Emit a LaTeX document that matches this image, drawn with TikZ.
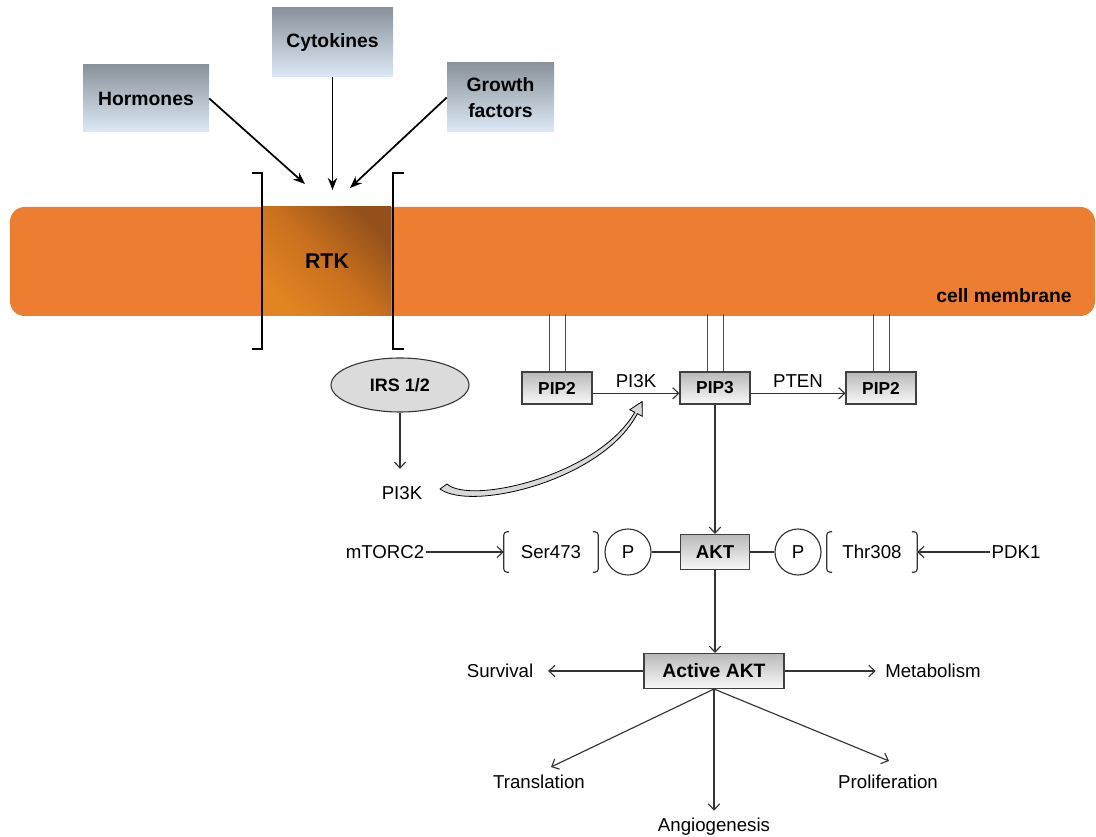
\documentclass[tikz,border=0pt]{standalone}
\usepackage{fontspec}
\setmainfont{Liberation Sans}
\usetikzlibrary{arrows.meta,shapes.geometric,calc}
\definecolor{membrane}{HTML}{ED7D31}
\definecolor{boxtop}{HTML}{8A939C}
\definecolor{boxbot}{HTML}{DDE9F6}
\definecolor{rtkdark}{HTML}{94501A}
\definecolor{rtkmid}{HTML}{C8701E}
\definecolor{rtklight}{HTML}{E08522}
\definecolor{linec}{HTML}{333333}
\begin{document}
\begin{tikzpicture}[x=0.75pt,y=-0.75pt,
  srcbox/.style={top color=boxtop,bottom color=boxbot,draw=none,align=center,
    font=\bfseries\fontsize{14.5}{20}\selectfont,inner sep=0pt},
  pipbox/.style={draw=black!75,line width=0.8pt,top color=gray!55,bottom color=gray!5,
    minimum width=52.5pt,minimum height=24pt,inner sep=0pt,
    font=\bfseries\fontsize{13}{15}\selectfont},
  lbl/.style={font=\fontsize{14}{16}\selectfont,inner sep=1pt},
  bigarrow/.style={line width=1.3pt,-{Stealth[length=9pt,width=7pt]}},
  thinarrow/.style={draw=linec,line width=0.85pt,-{Straight Barb[length=4.5pt,width=8.5pt]}},
  thinline/.style={draw=linec,line width=0.85pt},
  pcircle/.style={circle,draw=linec,line width=0.85pt,minimum size=34.5pt,inner sep=0pt,
    font=\fontsize{14}{16}\selectfont},
  bracketline/.style={draw=linec,line width=0.85pt,rounded corners=2.5pt},
  stalk/.style={draw=gray!60!black,line width=0.6pt}
]
\useasboundingbox (0,0) rectangle (1096,837);

% ligand boxes
\node[srcbox,minimum width=94.5pt,minimum height=50.25pt] (horm) at (146,98.5) {Hormones};
\node[srcbox,minimum width=90.75pt,minimum height=51.75pt] (cyto) at (332.5,42.5) {Cytokines};
\node[srcbox,minimum width=80.25pt,minimum height=51.75pt] (grow) at (500.5,97.5) {Growth\\factors};

% membrane
\fill[membrane,rounded corners=11pt] (10,207) rectangle (1095,316);
\node[minimum width=96pt,minimum height=81.75pt,inner sep=0pt,
  top color=rtkdark,bottom color=rtklight,middle color=rtkmid,shading angle=-45,
  font=\bfseries\fontsize{16}{18}\selectfont] (rtk) at (327,261.5) {RTK};
\node[font=\bfseries\fontsize{14.5}{16}\selectfont,anchor=east,inner sep=0pt] (cm) at (1072,296) {cell membrane};

% brackets around RTK
\draw[line width=1pt] (252,173) -- (262,173) -- (262,349) -- (252,349);
\draw[line width=1pt] (404,173) -- (393,173) -- (393,349) -- (404,349);

% ligand arrows
\coordinate (tH) at (305,184);
\coordinate (tC) at (332.5,190);
\coordinate (tG) at (350,188);
\draw[bigarrow] (horm.east) -- (tH);
\draw[bigarrow] (cyto.south) -- (tC);
\draw[bigarrow] (grow.west) -- (tG);

% IRS and PI3K
\node[ellipse,draw=black!80,line width=0.8pt,fill=gray!28,minimum width=103.5pt,
  minimum height=40.5pt,inner sep=0pt,font=\bfseries\fontsize{13.5}{15}\selectfont] (irs) at (400,385) {IRS 1/2};
\node[lbl] (pik) at (402,493) {PI3K};
\draw[thinarrow,shorten >=12pt] (irs.south) -- (irs.south |- pik.north);

% PIP boxes
\node[pipbox] (pipA) at (557,388) {PIP2};
\node[pipbox] (pipB) at (715,388) {PIP3};
\node[pipbox] (pipC) at (881,388) {PIP2};
\foreach \n in {pipA,pipB,pipC}{
  \draw[stalk] ([xshift=-6pt]\n.north) -- ++(0,-57);
  \draw[stalk] ([xshift=6pt]\n.north) -- ++(0,-57);
}
\draw[thinarrow] ([yshift=-4pt]pipA.east) -- ([yshift=-4pt]pipB.west)
  node[midway,above=3pt,lbl] (pikl) {PI3K};
\draw[thinarrow] ([yshift=-4pt]pipB.east) -- ([yshift=-4pt]pipC.west)
  node[midway,above=3pt,lbl] (ptenl) {PTEN};

% hollow curved arrow
\draw[line width=0.6pt,fill=gray!30]
  (440,489) .. controls (472,512) and (603,480) .. (637.3,413.7)
  -- (642.2,416.3) -- (642.1,401.6) -- (629.8,409.7) -- (634.7,412.3)
  .. controls (598,476) and (470,505) .. (447,484) -- cycle;

% AKT row
\node[pipbox,minimum width=51.75pt,minimum height=26.25pt,font=\bfseries\fontsize{14}{16}\selectfont] (akt) at (715,552) {AKT};
\draw[thinarrow] (pipB.south) -- (akt.north);
\node[pcircle] (pL) at (628,552) {P};
\node[pcircle] (pR) at (798,552) {P};
\draw[thinline] (pL) -- (akt);
\draw[thinline] (akt) -- (pR);
\node[lbl,minimum width=70.5pt,minimum height=30pt] (ser) at (551,552) {Ser473};
\node[lbl,minimum width=67.5pt,minimum height=30pt] (thr) at (872,552) {Thr308};
\foreach \n in {ser,thr}{
  \draw[bracketline] ([xshift=4pt]\n.north west) -- (\n.north west) -- (\n.south west) -- ([xshift=4pt]\n.south west);
  \draw[bracketline] ([xshift=-4pt]\n.north east) -- (\n.north east) -- (\n.south east) -- ([xshift=-4pt]\n.south east);
}
\node[lbl] (mtorc) at (385,552) {mTORC2};
\node[lbl] (pdk) at (1016,552) {PDK1};
\draw[thinarrow] (mtorc.east) -- (ser.west);
\draw[thinarrow] (pdk.west) -- (thr.east);

% Active AKT
\node[pipbox,minimum width=105pt,minimum height=26.25pt,font=\bfseries\fontsize{14.5}{16}\selectfont] (aakt) at (714,671) {Active AKT};
\draw[thinarrow] (akt.south) -- (akt.south |- aakt.north);
\node[lbl] (surv) at (500,671) {Survival};
\node[lbl] (metab) at (933,671) {Metabolism};
\draw[thinarrow,shorten >=10pt] (aakt.west) -- (surv.east);
\draw[thinarrow,shorten >=6pt] (aakt.east) -- (metab.west);

\node[lbl] (trans) at (539,782) {Translation};
\node[lbl,anchor=north] (angio) at (714,816) {Angiogenesis};
\node[lbl] (prolif) at (888,782) {Proliferation};
\coordinate (tT) at (551,767);
\coordinate (tP) at (889,761);
\draw[thinarrow] (aakt.south) -- (tT);
\draw[thinarrow,shorten >=4pt] (aakt.south) -- (angio.north);
\draw[thinarrow] (aakt.south) -- (tP);
\end{tikzpicture}
\end{document}
